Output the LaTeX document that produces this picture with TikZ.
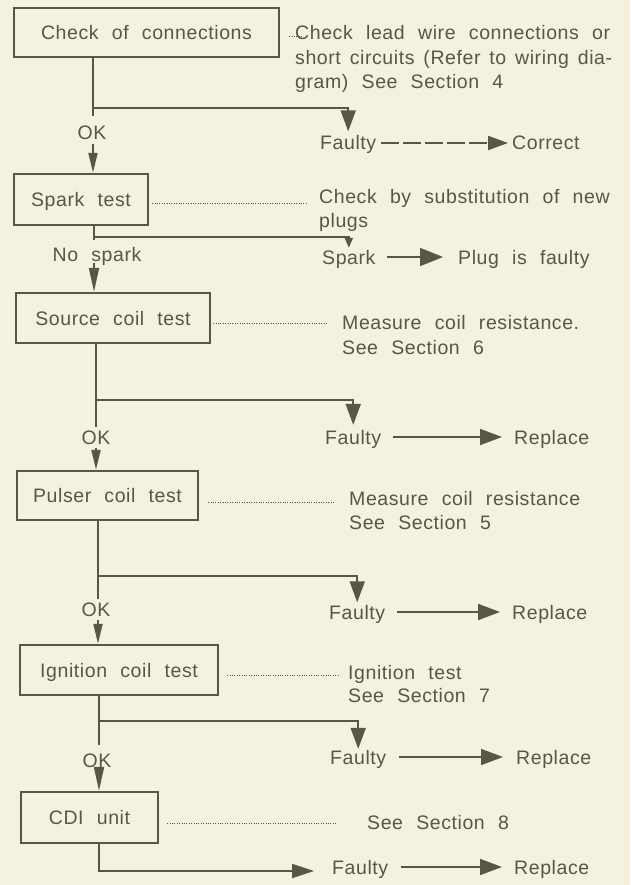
\documentclass[tikz,border=0pt]{standalone}
\usepackage{fontspec}
\setmainfont{Liberation Sans}[LetterSpace=3,WordSpace=2.2]
\usetikzlibrary{arrows.meta}
\definecolor{ink}{RGB}{88,87,68}
\definecolor{paper}{RGB}{244,241,222}
\begin{document}
\begin{tikzpicture}[x=1pt,y=-1pt,
  font=\fontsize{19.5}{24}\selectfont, text=ink,
  box/.style={draw=ink, line width=2.4pt, inner sep=0pt, text height=14pt, text depth=0pt},
  lbl/.style={inner sep=0pt, text height=14pt, text depth=0pt, anchor=west},
  clbl/.style={inner sep=0pt, text height=14pt, text depth=0pt},
  flow/.style={draw=ink, line width=2pt},
  down/.style={flow, -{Triangle[length=20pt,width=9pt]}},
  branch/.style={flow, -{Triangle[length=21pt,width=15pt]}},
  rarr/.style={draw=ink, line width=1.8pt, -{Triangle[length=22pt,width=16pt]}},
  leader/.style={draw=ink, line width=1pt, dash pattern=on 1pt off 1.4pt},
]
\fill[paper] (0,0) rectangle (630,885);
\useasboundingbox (0,0) rectangle (630,885);

% ---------- row 1
\node[box, minimum width=265pt, minimum height=49pt] (b1) at (146.5,32.5) {Check of connections};
\node[lbl] (t1a) at (295,33) {\makebox[315pt][s]{Check lead wire connections or}};
\node[lbl] (t1b) at (295,58) {\makebox[317pt][s]{short circuits (Refer to wiring dia-}};
\node[lbl] (t1c) at (295,82) {gram) See Section 4};
\coordinate (j1) at (93,108);
\node[clbl] (ok1) at (92,133) {OK};
\node[lbl] (fa1) at (320,143) {Faulty};
\node[lbl] (co1) at (512,143) {Correct};
\draw[leader, shorten >=2pt] ([xshift=9pt,yshift=-4.5pt]b1.east) -- ([xshift=9pt,yshift=-4.5pt]b1.east -| t1a.west);
\draw[flow, shorten >=10pt] (b1.south -| j1) -- (j1 |- ok1.north);
\draw[branch, shorten >=4.5pt] (j1) -| (fa1.north);
\draw[flow, line width=1.8pt, dash pattern=on 18pt off 4pt, -{Triangle[length=20pt,width=14pt]}, shorten <=5pt, shorten >=4pt] (fa1.east) -- (co1.west);

% ---------- row 2
\node[box, minimum width=134pt, minimum height=51pt] (b2) at (81,199.5) {Spark test};
\draw[down, shorten <=3.5pt] (j1 |- ok1.south) -- (j1 |- b2.north);
\node[lbl] (t2a) at (319,197) {Check by substitution of new};
\node[lbl] (t2b) at (319,221) {plugs};
\coordinate (j2) at (94,237);
\node[clbl] (ns) at (97,254) {No spark};
\node[lbl] (sp) at (322,257) {Spark};
\node[lbl] (pl) at (458,257) {Plug is faulty};
\draw[leader, shorten >=14pt] ([xshift=3pt,yshift=-4pt]b2.east) -- ([xshift=3pt,yshift=-4pt]b2.east -| t2a.west);
\draw[flow] (b2.south -| j2) -- ([yshift=-3pt]j2);
\draw[flow, -{Triangle[length=10pt,width=8pt]}, shorten >=2pt] (j2) -| (sp.north);
\draw[rarr, -{Triangle[length=23pt,width=18pt]}, shorten <=11pt, shorten >=15pt] (sp.east) -- (pl.west);

% ---------- row 3
\node[box, minimum width=194pt, minimum height=50pt] (b3) at (113,318) {Source coil test};
\draw[flow, -{Triangle[length=24pt,width=10pt]}, shorten <=2pt] (j2 |- ns.south) -- (j2 |- b3.north);
\node[lbl] (t3a) at (342,322) {Measure coil resistance.};
\node[lbl] (t3b) at (342,347) {See Section 6};
\draw[leader, shorten >=17pt] ([xshift=2pt,yshift=-5pt]b3.east) -- ([xshift=2pt,yshift=-5pt]b3.east -| t3a.west);
\coordinate (j3) at (96,400);
\node[clbl] (ok3) at (96,437) {OK};
\node[lbl] (fa3) at (325,437) {Faulty};
\node[lbl] (re3) at (514,437) {Replace};
\draw[flow, shorten >=3pt] (b3.south -| j3) -- (j3 |- ok3.north);
\draw[branch, shorten >=5pt] (j3) -| (fa3.north);
\draw[rarr, shorten <=12pt, shorten >=12pt] (fa3.east) -- (re3.west);

% ---------- row 4
\node[box, minimum width=181pt, minimum height=49pt] (b4) at (107.5,495.5) {Pulser coil test};
\draw[down, shorten <=3.5pt] (j3 |- ok3.south) -- (j3 |- b4.north);
\node[lbl] (t4a) at (349,498) {Measure coil resistance};
\node[lbl] (t4b) at (349,522) {See Section 5};
\draw[leader, shorten >=24pt] ([xshift=9pt,yshift=-6.5pt]b4.east) -- ([xshift=9pt,yshift=-6.5pt]b4.east -| t4a.west);
\coordinate (j4) at (98,576);
\node[clbl] (ok4) at (96,609) {OK};
\node[lbl] (fa4) at (329,612) {Faulty};
\node[lbl] (re4) at (512,612) {Replace};
\draw[flow, shorten >=3pt] (b4.south -| j4) -- (j4 |- ok4.north);
\draw[branch, shorten >=2.5pt] (j4) -| (fa4.north);
\draw[rarr, shorten <=12pt, shorten >=12pt] (fa4.east) -- (re4.west);

% ---------- row 5
\node[box, minimum width=198pt, minimum height=50pt] (b5) at (119,670) {Ignition coil test};
\draw[down, shorten <=4pt] (j4 |- ok4.south) -- (j4 |- b5.north);
\node[lbl] (t5a) at (348,672) {Ignition test};
\node[lbl] (t5b) at (348,695) {See Section 7};
\draw[leader, shorten >=16pt] ([xshift=8pt,yshift=-5pt]b5.east) -- ([xshift=8pt,yshift=-5pt]b5.east -| t5a.west);
\coordinate (j5) at (99,721);
\node[clbl] (ok5) at (97,760) {OK};
\node[lbl] (fa5) at (330,757) {Faulty};
\node[lbl] (re5) at (516,757) {Replace};
\draw[flow, shorten >=8pt] (b5.south -| j5) -- (j5 |- ok5.north);
\draw[branch, shorten >=1pt] (j5) -| (fa5.north);
\draw[rarr, shorten <=13pt, shorten >=13pt] (fa5.east) -- (re5.west);

% ---------- row 6
\node[box, minimum width=137pt, minimum height=51pt] (b6) at (89.5,817.5) {CDI unit};
\draw[flow, -{Triangle[length=24pt,width=10pt]}, shorten <=0pt] (j5 |- ok5.south) -- (j5 |- b6.north);
\node[lbl] (t6) at (367,822) {See Section 8};
\draw[leader, shorten >=39pt] ([xshift=8pt,yshift=-5.5pt]b6.east) -- ([xshift=8pt,yshift=-5.5pt]b6.east -| t6.west);
\coordinate (j6) at (99,871);
\node[lbl] (fa6) at (332,867) {Faulty};
\node[lbl] (re6) at (514,867) {Replace};
\draw[flow, -{Triangle[length=22pt,width=14pt]}, shorten >=18pt] (b6.south -| j6) -- (j6) -- (j6 -| fa6.west);
\draw[rarr, shorten <=13pt, shorten >=12pt] (fa6.east) -- (re6.west);
\end{tikzpicture}
\end{document}
